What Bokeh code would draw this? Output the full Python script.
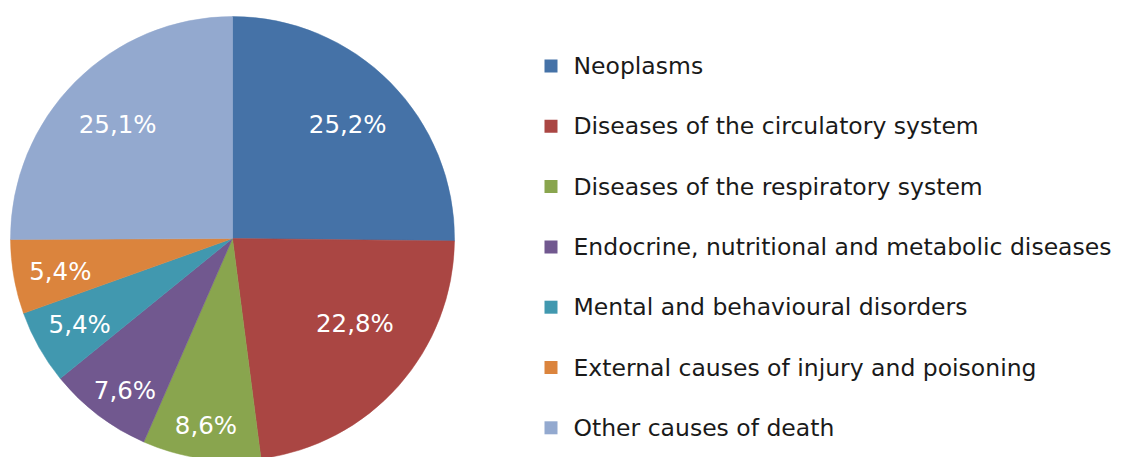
import math
from bokeh.plotting import figure
from bokeh.models import Range1d, ColumnDataSource
from bokeh.core.properties import value
from bokeh.embed import file_html
from bokeh.resources import INLINE

categories = [
    "Neoplasms",
    "Diseases of the circulatory system",
    "Diseases of the respiratory system",
    "Endocrine, nutritional and metabolic diseases",
    "Mental and behavioural disorders",
    "External causes of injury and poisoning",
    "Other causes of death",
]
shares = [25.2, 22.8, 8.6, 7.6, 5.4, 5.4, 25.1]
labels = ["25,2%", "22,8%", "8,6%", "7,6%", "5,4%", "5,4%", "25,1%"]
colors = ["#4572A7", "#AA4643", "#89A54E", "#71588F", "#4198AF", "#DB843D", "#93A9CF"]

# layout: data coordinates equal screen pixels (y measured upward)
W, H = 1124, 457
CX, CY, R = 232, H - 238, 222
label_r = [0.73, 0.67, 0.85, 0.84, 0.79, 0.79, 0.73]
label_da = [0.0, -7.0, 0.0, -2.0, 0.0, -1.0, 0.0]

total = sum(shares)
starts, ends, lx, ly = [], [], [], []
cum = 0.0
for i, s in enumerate(shares):
    a0 = math.pi / 2 - 2 * math.pi * cum / total
    a1 = math.pi / 2 - 2 * math.pi * (cum + s) / total
    starts.append(a0)
    ends.append(a1)
    mid = (cum + s / 2) / total * 360 + label_da[i]
    rr = R * label_r[i]
    lx.append(CX + rr * math.sin(math.radians(mid)))
    ly.append(CY + rr * math.cos(math.radians(mid)))
    cum += s

src = ColumnDataSource(dict(start=starts, end=ends, color=colors, lx=lx, ly=ly,
                            label=labels, cat=categories))

p = figure(width=W, height=H, output_backend="svg", toolbar_location=None,
           x_range=Range1d(0, W), y_range=Range1d(0, H), min_border=0)
p.axis.visible = False
p.grid.visible = False
p.outline_line_color = None

p.wedge(x=CX, y=CY, radius=R, start_angle="start", end_angle="end",
        direction="clock", fill_color="color", line_color="color", line_width=0.5,
        source=src)
p.text(x="lx", y="ly", text="label", source=src, text_color="white",
       text_font=value("DejaVu Sans"), text_font_size="24.5px",
       text_align="center", text_baseline="middle")

# legend
leg_x = 544
leg_y0 = H - 65.5
leg_dy = 60.3
ys = [leg_y0 - i * leg_dy for i in range(len(categories))]
lsrc = ColumnDataSource(dict(y=ys, color=colors, cat=categories))
p.rect(x=leg_x + 6.5, y="y", width=13, height=13, fill_color="color",
       line_color=None, source=lsrc)
p.text(x=573, y="y", text="cat", source=lsrc, text_color="#1a1a1a",
       text_font=value("DejaVu Sans"), text_font_size="23.5px",
       text_align="left", text_baseline="middle")

open("out.html", "w").write(file_html(p, INLINE))
